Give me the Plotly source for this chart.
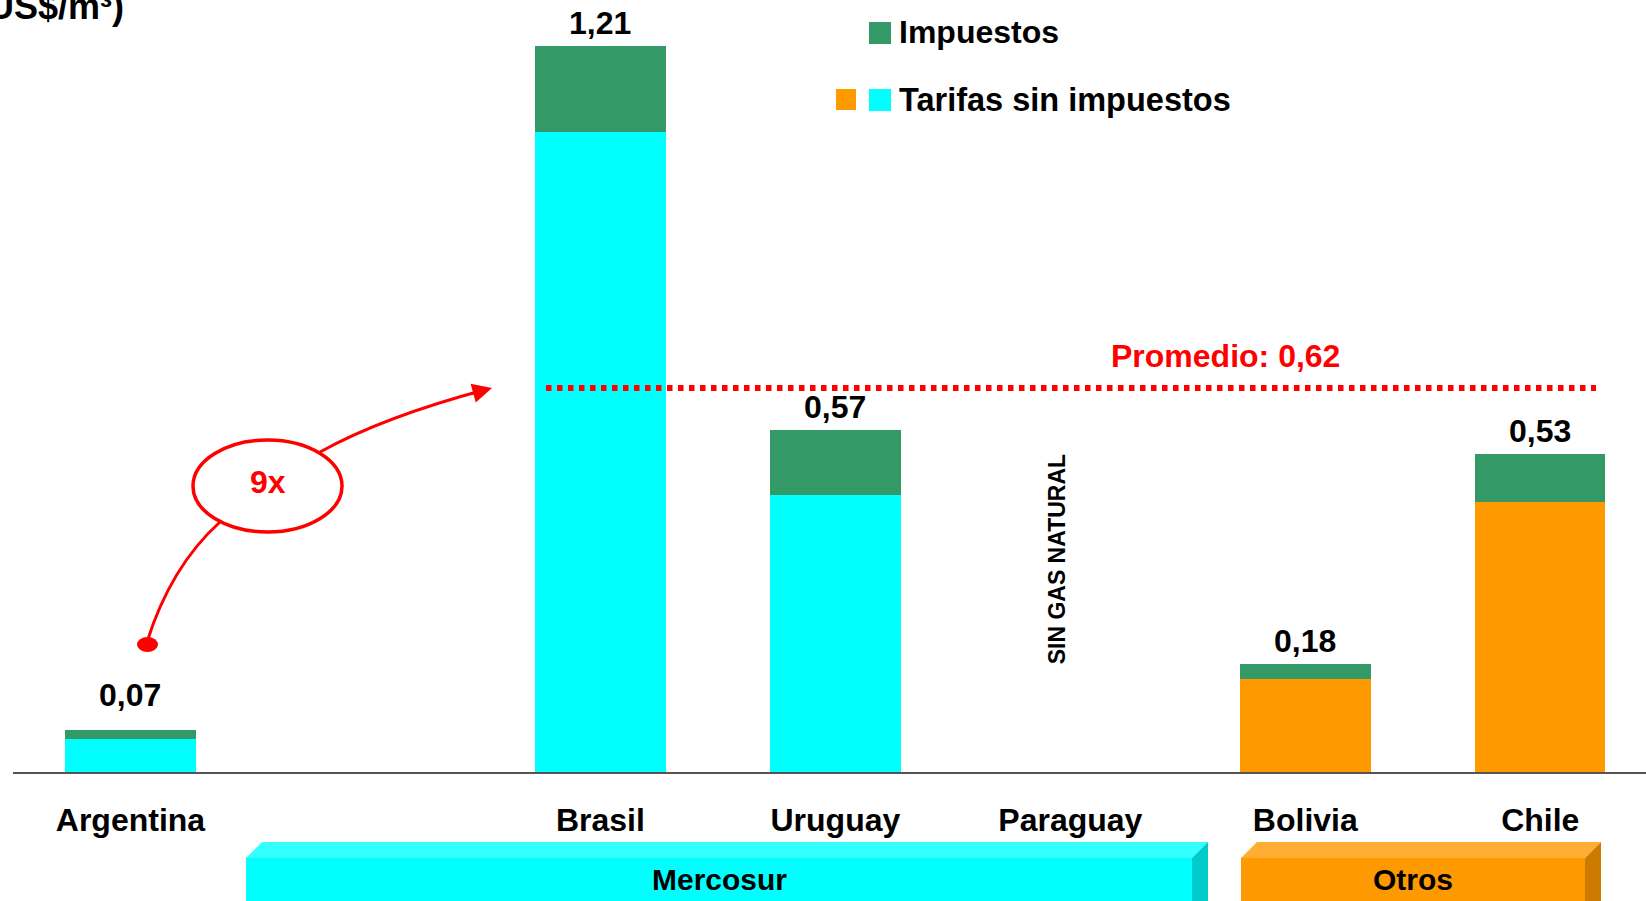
import plotly.graph_objects as go

# ---------------- data ----------------
categorias = ["Argentina", " ", "Brasil", "Uruguay", "Paraguay", "Bolivia", "Chile"]
grupo = ["Mercosur", None, "Mercosur", "Mercosur", "Mercosur", "Otros", "Otros"]
tarifa_sin_impuestos = [0.055, None, 1.067, 0.4625, None, 0.155, 0.45]
impuestos = [0.015, None, 0.143, 0.1075, None, 0.025, 0.08]
promedio_texto = "Promedio: 0,62"
nivel_promedio = 0.64          # level of the dotted line as drawn in the picture
sin_gas = "Paraguay"
multiplicador = "9x"

# ---------------- style ----------------
FONT = "Liberation Sans, Arial, sans-serif"
CYAN = "#00FFFF"
ORANGE = "#FF9900"
GREEN = "#339966"
RED = "#FF0000"
color_grupo = {"Mercosur": CYAN, "Otros": ORANGE, None: CYAN}
label_extra_shift = {"Argentina": 12}

W, H = 1646, 901
ML, MB = 13, 129
PW, PH = W - ML, H - MB


def xp(px):
    return (px - ML) / PW


def yp(py):
    return (PH - py) / PH


fig = go.Figure()
fig.add_trace(go.Bar(
    x=categorias, y=tarifa_sin_impuestos,
    marker=dict(color=[color_grupo[g] for g in grupo], line=dict(width=0)),
    name="Tarifas sin impuestos", hoverinfo="skip",
))
fig.add_trace(go.Bar(
    x=categorias, y=impuestos,
    marker=dict(color=GREEN, line=dict(width=0)),
    name="Impuestos", hoverinfo="skip",
))

ann = []
shapes = []

# value labels
for c, b, t in zip(categorias, tarifa_sin_impuestos, impuestos):
    if b is None:
        continue
    total = b + t
    ann.append(dict(x=c, y=total, xref="x", yref="y", xanchor="center", yanchor="middle",
                    yshift=23 + label_extra_shift.get(c, 0),
                    text=f"{total:.2f}".replace(".", ","), showarrow=False,
                    font=dict(family=FONT, size=32, color="black", weight="bold")))

# no natural gas
ann.append(dict(x=sin_gas, y=0.355, xref="x", yref="y", xshift=-13, textangle=-90,
                xanchor="center", yanchor="middle",
                text="SIN GAS NATURAL", showarrow=False,
                font=dict(family=FONT, size=23, color="black", weight="bold")))

# average line + label
shapes.append(dict(type="line", xref="paper", yref="y", x0=xp(546), x1=xp(1596),
                   y0=nivel_promedio, y1=nivel_promedio,
                   line=dict(color=RED, width=6, dash="5.5px,5.5px")))
ann.append(dict(x=xp(1225), y=yp(356), xref="paper", yref="paper",
                xanchor="center", yanchor="middle",
                text=promedio_texto, showarrow=False,
                font=dict(family=FONT, size=32, color=RED, weight="bold")))

# 9x ellipse, curve and arrow
shapes.append(dict(type="circle", xref="paper", yref="paper",
                   x0=xp(193), x1=xp(342), y0=yp(532), y1=yp(440),
                   line=dict(color=RED, width=3.5)))
shapes.append(dict(type="circle", xref="paper", yref="paper",
                   x0=xp(137), x1=xp(158), y0=yp(652), y1=yp(637),
                   fillcolor=RED, line=dict(color=RED, width=0)))
shapes.append(dict(type="path", xref="paper", yref="paper",
                   path=f"M {xp(147)},{yp(642)} Q {xp(170.7)},{yp(566.5)} {xp(220)},{yp(522)}",
                   line=dict(color=RED, width=3)))
shapes.append(dict(type="path", xref="paper", yref="paper",
                   path=f"M {xp(320)},{yp(452)} Q {xp(383)},{yp(417)} {xp(486)},{yp(389.5)}",
                   line=dict(color=RED, width=3)))
ann.append(dict(x=xp(492), y=yp(388), xref="paper", yref="paper", text="",
                showarrow=True, ax=-22, ay=6, arrowhead=2, arrowsize=1.3,
                arrowwidth=3, arrowcolor=RED, standoff=0))
ann.append(dict(x=xp(267.5), y=yp(482), xref="paper", yref="paper",
                xanchor="center", yanchor="middle",
                text=multiplicador, showarrow=False,
                font=dict(family=FONT, size=32, color=RED, weight="bold")))

# legend
shapes.append(dict(type="rect", xref="paper", yref="paper", x0=xp(869), x1=xp(891),
                   y0=yp(44), y1=yp(22), fillcolor=GREEN, line=dict(width=0)))
shapes.append(dict(type="rect", xref="paper", yref="paper", x0=xp(836), x1=xp(856),
                   y0=yp(110), y1=yp(89), fillcolor=ORANGE, line=dict(width=0)))
shapes.append(dict(type="rect", xref="paper", yref="paper", x0=xp(869), x1=xp(891),
                   y0=yp(111), y1=yp(89), fillcolor=CYAN, line=dict(width=0)))
ann.append(dict(x=xp(897), y=yp(31.5), xref="paper", yref="paper", xanchor="left",
                yanchor="middle", text="Impuestos", showarrow=False,
                font=dict(family=FONT, size=32, color="black", weight="bold")))
ann.append(dict(x=xp(897), y=yp(100), xref="paper", yref="paper", xanchor="left",
                yanchor="middle", text="Tarifas sin impuestos", showarrow=False,
                font=dict(family=FONT, size=32.5, color="black", weight="bold")))

# units title (partly outside the page on the left, as in the original)
ann.append(dict(x=xp(126), y=yp(6), xref="paper", yref="paper", xanchor="right",
                yanchor="middle", text="(US$/m³)", showarrow=False,
                font=dict(family=FONT, size=36, color="black", weight="bold")))


# group boxes (3D look)
def caja(x0, x1, front, top, side, label):
    d = 16
    yt, yf, yb = 842, 858, 915
    shapes.append(dict(type="rect", xref="paper", yref="paper", x0=xp(x0), x1=xp(x1),
                       y0=yp(yb), y1=yp(yf), fillcolor=front, line=dict(width=0)))
    shapes.append(dict(type="path", xref="paper", yref="paper",
                       path=f"M {xp(x0)},{yp(yf)} L {xp(x0 + d)},{yp(yt)} L {xp(x1 + d)},{yp(yt)} "
                            f"L {xp(x1)},{yp(yf)} Z",
                       fillcolor=top, line=dict(width=0)))
    shapes.append(dict(type="path", xref="paper", yref="paper",
                       path=f"M {xp(x1)},{yp(yf)} L {xp(x1 + d)},{yp(yt)} L {xp(x1 + d)},{yp(yb)} "
                            f"L {xp(x1)},{yp(yb)} Z",
                       fillcolor=side, line=dict(width=0)))
    ann.append(dict(x=xp((x0 + x1) / 2), y=yp(879), xref="paper", yref="paper",
                    xanchor="center", yanchor="middle", text=label, showarrow=False,
                    font=dict(family=FONT, size=30, color="black", weight="bold")))


caja(246, 1192, CYAN, "#33FFFF", "#00CCCC", "Mercosur")
caja(1241, 1585, ORANGE, "#FFAD33", "#CC7A00", "Otros")

fig.update_layout(
    width=W, height=H,
    margin=dict(l=ML, r=0, t=0, b=MB, pad=0),
    barmode="stack", bargap=0.445,
    showlegend=False,
    plot_bgcolor="white", paper_bgcolor="white",
    annotations=ann, shapes=shapes,
    xaxis=dict(type="category", categoryorder="array", categoryarray=categorias,
               range=[-0.5, 6.45], showline=True, linecolor="#555555", linewidth=1.5,
               showgrid=False, zeroline=False, ticks="", ticklabelstandoff=19,
               tickfont=dict(family=FONT, size=32, color="black", weight="bold"),
               fixedrange=True),
    yaxis=dict(range=[0, PH / 600], visible=False, showgrid=False, zeroline=False,
               fixedrange=True),
)

fig.write_html(
    "out.html",
    config={"displayModeBar": False},
    post_script="document.body.style.margin='0';document.documentElement.style.overflow='hidden';",
)
